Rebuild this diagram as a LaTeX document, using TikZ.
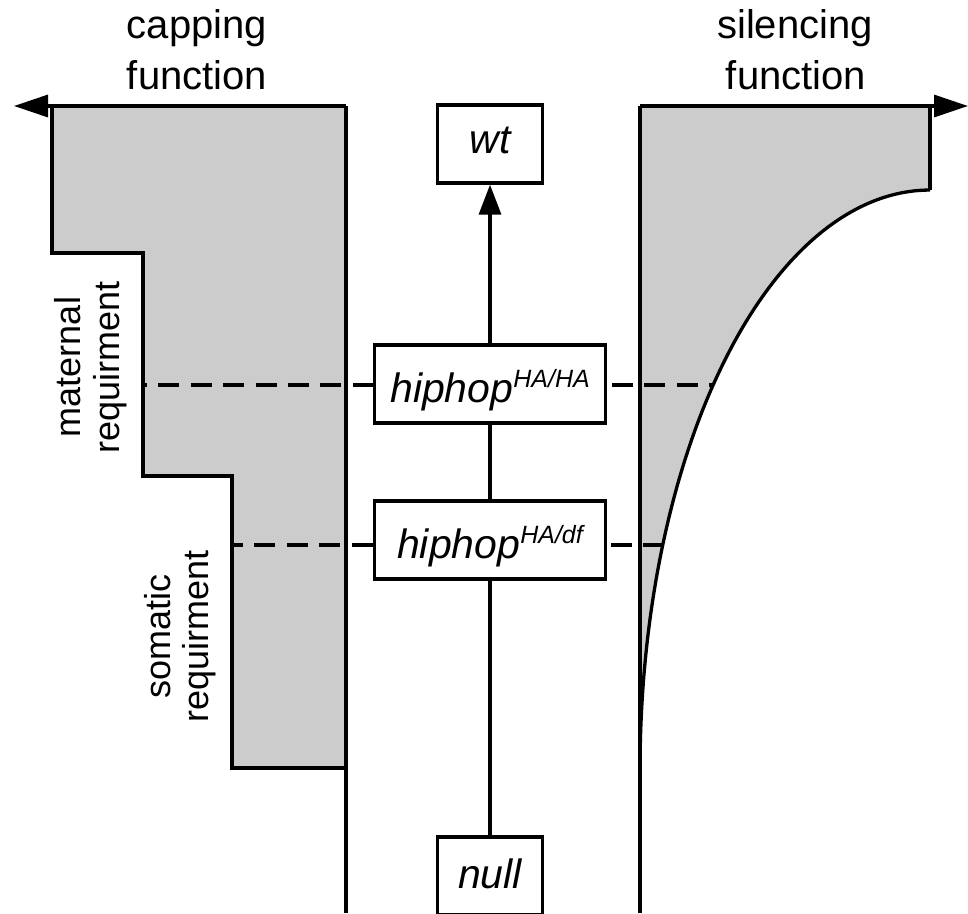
\documentclass[tikz,border=0pt]{standalone}
\usepackage{fontspec}
\setmainfont{Liberation Sans}
\usetikzlibrary{arrows.meta}
\begin{document}
\begin{tikzpicture}[x=1pt,y=-1pt,line width=3.3pt,
  axis/.style={line width=3.3pt,-{Triangle[length=34pt,width=22pt]}},
  dline/.style={line width=3.2pt,dash pattern=on 21pt off 11.4pt},
  gbox/.style={draw,fill=white,line width=3.3pt,inner sep=0pt,minimum height=78pt,
    font=\fontsize{41}{41}\selectfont\itshape},
  tlab/.style={anchor=base,inner sep=0pt,font=\fontsize{40}{40}\selectfont},
  rlab/.style={anchor=base,inner sep=0pt,rotate=90,font=\fontsize{36}{36}\selectfont}]
\useasboundingbox (0,0) rectangle (968,913);
\clip (0,0) rectangle (968,913);
% ---- left (capping) ----
\fill[black!20] (52,106) -- (346,106) -- (346,768) -- (232,768) -- (232,476)
  -- (143,476) -- (143,253) -- (52,253) -- cycle;
\draw (52,106) -- (52,253) -- (143,253) -- (143,476) -- (232,476) -- (232,768) -- (346,768);
\draw (346,913) -- (346,106);
\coordinate (lend) at (14,106);
\draw[axis] (346,106) -- (lend);
% ---- right (silencing) ----
\fill[black!20] (640,106) -- (930,106) -- (930,190)
  -- plot[domain=90:180,samples=60,smooth] ({930+290*cos(\x)},{770-580*sin(\x)}) -- cycle;
\draw plot[domain=90:180,samples=60,smooth] ({930+290*cos(\x)},{770-580*sin(\x)});
\draw (930,106) -- (930,190);
\draw (640,913) -- (640,106);
\coordinate (rend) at (968,106);
\draw[axis] (640,106) -- (rend);
% ---- dashed lines ----
\coordinate (m1) at (143,385);
\coordinate (c1) at (713.1,385);
\coordinate (m2) at (232,545);
\coordinate (c2) at (662.7,545);
\draw[dline,dash phase=17pt] (m1) -- (c1);
\draw[dline,dash phase=10pt] (m2) -- (c2);
% ---- boxes ----
\node[gbox,minimum width=105pt,text height=30pt,text depth=12pt] (wt) at (490,144) {wt};
\node[gbox,minimum width=231pt,text height=40pt,text depth=4pt] (ha) at (490,384)
  {hiphop\raisebox{15pt}{\fontsize{25}{25}\selectfont HA/HA}};
\node[gbox,minimum width=231pt,text height=40pt,text depth=4pt] (df) at (490,540)
  {hiphop\raisebox{15pt}{\fontsize{25}{25}\selectfont HA/df}};
\node[gbox,minimum width=105pt,text height=30pt,text depth=6pt] (nl) at (490,876) {null};
\draw (nl.north) -- (df.south);
\draw (df.north) -- (ha.south);
\draw[-{Triangle[length=30pt,width=22pt]}] (ha.north) -- (wt.south);
% ---- labels ----
\node[tlab] (cap1) at (197,38) {capping};
\node[tlab] (cap2) at (197,89) {function};
\node[tlab] (sil1) at (795,38) {silencing};
\node[tlab] (sil2) at (796,89) {function};
\node[rlab] (mat1) at (80,367) {maternal};
\node[rlab] (mat2) at (119,367) {requirment};
\node[rlab] (som1) at (170,636) {somatic};
\node[rlab] (som2) at (208,636) {requirment};
\end{tikzpicture}
\end{document}
